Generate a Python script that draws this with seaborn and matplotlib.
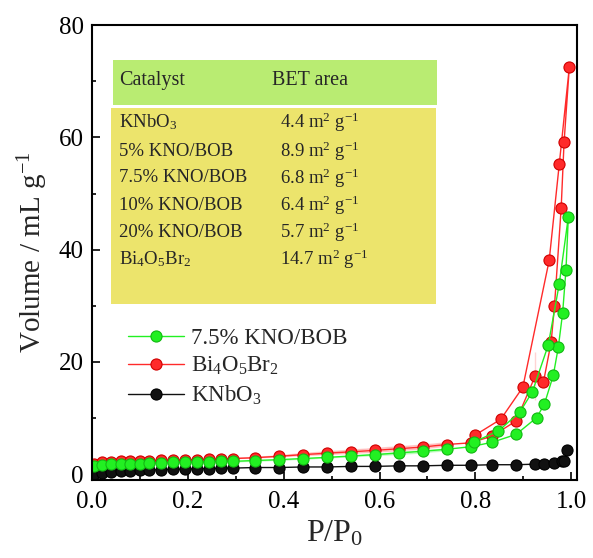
import matplotlib
matplotlib.use("Agg")
import matplotlib.pyplot as plt
from matplotlib.patches import Rectangle
from matplotlib.ticker import MultipleLocator
import seaborn as sns
import pandas as pd

# Bi4O5Br2 isotherm (adsorption then desorption branch)
red_ads_p = [0.005, 0.02, 0.04, 0.06, 0.08, 0.10, 0.12, 0.145, 0.17, 0.195, 0.22, 0.245, 0.27, 0.295,
             0.34, 0.39, 0.44, 0.49, 0.54, 0.59, 0.64, 0.69, 0.74, 0.79, 0.835, 0.885, 0.925, 0.942,
             0.958, 0.965, 0.979, 0.985, 0.996]
red_ads_v = [1.9, 2.1, 2.2, 2.3, 2.3, 2.4, 2.4, 2.5, 2.5, 2.6, 2.6, 2.7, 2.7, 2.8,
             2.9, 3.1, 3.3, 3.5, 3.7, 3.9, 4.2, 4.5, 5.0, 5.6, 6.8, 9.5, 13.3, 16.4,
             23.5, 29.9, 47.4, 59.1, 72.5]
red_des_p = [0.975, 0.954, 0.925, 0.899, 0.853, 0.80, 0.74, 0.69, 0.64, 0.59, 0.54, 0.49, 0.44, 0.39, 0.34, 0.295]
red_des_v = [55.2, 38.1, 21.8, 15.5, 9.8, 7.0, 5.6, 5.2, 4.9, 4.6, 4.3, 4.0, 3.7, 3.3, 3.0, 2.8]

# 7.5% KNO/BOB
green_ads_p = [0.005, 0.02, 0.04, 0.06, 0.08, 0.10, 0.12, 0.145, 0.17, 0.195, 0.22, 0.245, 0.27, 0.295,
               0.34, 0.39, 0.44, 0.49, 0.54, 0.59, 0.64, 0.69, 0.74, 0.79, 0.835, 0.885, 0.928, 0.944,
               0.9625, 0.973, 0.982, 0.989, 0.994]
green_ads_v = [1.5, 1.7, 1.8, 1.8, 1.9, 1.9, 2.0, 2.0, 2.1, 2.1, 2.2, 2.2, 2.3, 2.3,
               2.5, 2.6, 2.8, 3.0, 3.2, 3.4, 3.6, 3.9, 4.3, 4.9, 5.7, 7.1, 10.1, 12.5,
               17.6, 22.6, 28.7, 36.4, 45.9]
green_des_p = [0.975, 0.952, 0.919, 0.893, 0.848, 0.798, 0.74, 0.69, 0.64, 0.59, 0.54, 0.49, 0.44, 0.39, 0.34, 0.295]
green_des_v = [33.9, 23.0, 14.7, 11.1, 7.7, 5.8, 4.6, 4.3, 4.0, 3.6, 3.3, 3.0, 2.8, 2.6, 2.4, 2.3]

# KNbO3
black_p = [0.005, 0.02, 0.04, 0.06, 0.08, 0.10, 0.12, 0.145, 0.17, 0.195, 0.22, 0.245, 0.27, 0.295,
           0.34, 0.39, 0.44, 0.49, 0.54, 0.59, 0.64, 0.69, 0.74, 0.79, 0.835, 0.885, 0.925, 0.944,
           0.963, 0.98, 0.985, 0.992]
black_v = [0.1, 0.3, 0.4, 0.5, 0.6, 0.7, 0.8, 0.8, 0.9, 0.9, 1.0, 1.0, 1.1, 1.1,
           1.2, 1.2, 1.3, 1.3, 1.4, 1.4, 1.5, 1.5, 1.6, 1.6, 1.7, 1.7, 1.8, 1.9,
           2.0, 2.4, 2.3, 4.4]

catalysts = ['KNbO$_\\mathregular{3}$', '5% KNO/BOB', '7.5% KNO/BOB', '10% KNO/BOB', '20% KNO/BOB',
             'Bi$_\\mathregular{4}$O$_\\mathregular{5}$Br$_\\mathregular{2}$']
bet_area = [4.4, 8.9, 6.8, 6.4, 5.7, 14.7]

sns.set_style("ticks")
plt.rcParams['font.family'] = ['Liberation Serif', 'DejaVu Serif']
plt.rcParams['mathtext.fontset'] = 'custom'
plt.rcParams['mathtext.rm'] = 'Liberation Serif'
plt.rcParams['mathtext.it'] = 'Liberation Serif:italic'

fig, ax = plt.subplots(figsize=(5.93, 5.58), dpi=100)
fig.subplots_adjust(left=0.155, right=0.973, top=0.955, bottom=0.14)

series = [
    ('KNbO$_\\mathregular{3}$', black_p, black_v, '#111111', '#000000'),
    ('Bi$_\\mathregular{4}$O$_\\mathregular{5}$Br$_\\mathregular{2}$', red_ads_p + red_des_p, red_ads_v + red_des_v, '#ff2a2a', '#d00000'),
    ('7.5% KNO/BOB', green_ads_p + green_des_p, green_ads_v + green_des_v, '#22f022', '#12b812'),
]
for label, p, v, c, ec in series:
    df = pd.DataFrame({'P': p, 'V': v})
    sns.lineplot(data=df, x='P', y='V', sort=False, ax=ax, color=c, lw=1.0, marker='o',
                 markersize=8, markerfacecolor=c, markeredgecolor=ec, markeredgewidth=0.8, label=label)

# BET table
ax.add_patch(Rectangle((0.043, 0.824), 0.668, 0.099, transform=ax.transAxes,
                       facecolor='#b9ec72', edgecolor='none', zorder=1))
ax.add_patch(Rectangle((0.039, 0.387), 0.670, 0.431, transform=ax.transAxes,
                       facecolor='#ece46c', edgecolor='none', zorder=1))
ax.text(0.056, 0.879, 'Catalyst', transform=ax.transAxes, fontsize=14.5, va='center', zorder=2)
ax.text(0.371, 0.879, 'BET area', transform=ax.transAxes, fontsize=14.5, va='center', zorder=2)
row_y = [0.787, 0.722, 0.664, 0.604, 0.545, 0.486]
for name, area, y in zip(catalysts, bet_area, row_y):
    ax.text(0.056, y, name, transform=ax.transAxes, fontsize=13.5, va='center', zorder=2)
    ax.text(0.388, y, f'{area} m$^\\mathregular{{2}}$ g$^\\mathregular{{-1}}$', transform=ax.transAxes,
            fontsize=13.5, va='center', zorder=2)

ax.set_xlim(0, 1.012)
ax.set_ylim(-1, 80)
ax.xaxis.set_major_locator(MultipleLocator(0.2))
ax.xaxis.set_minor_locator(MultipleLocator(0.1))
ax.yaxis.set_major_locator(MultipleLocator(20))
ax.yaxis.set_minor_locator(MultipleLocator(10))
ax.tick_params(which='both', direction='in', width=1.2, labelsize=18, colors='black')
ax.tick_params(which='major', length=6)
ax.tick_params(which='minor', length=3)
ax.tick_params(axis='x', pad=8)
ax.tick_params(axis='y', pad=6)
for s in ax.spines.values():
    s.set_linewidth(1.5)
    s.set_color('black')
ax.set_xlabel('P/P$_\\mathregular{0}$', fontsize=23, labelpad=4)
ax.set_ylabel('Volume / mL g$^\\mathregular{-1}$', fontsize=21, labelpad=6)

handles, labels = ax.get_legend_handles_labels()
order = [2, 1, 0]
ax.legend([handles[i] for i in order], [labels[i] for i in order], loc='upper left',
          bbox_to_anchor=(0.074, 0.335), frameon=False, fontsize=16.5, handlelength=2.45,
          handletextpad=0.3, labelspacing=0.28, borderpad=0, borderaxespad=0)

plt.savefig('out.png', dpi=100)
